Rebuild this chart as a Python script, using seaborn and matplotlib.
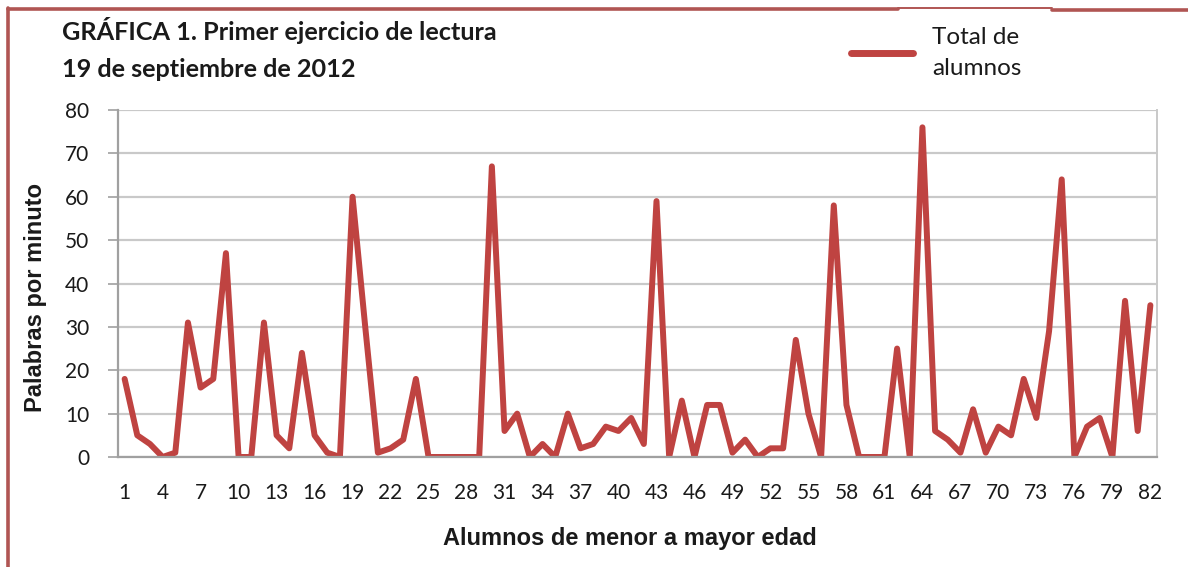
import matplotlib.pyplot as plt
from matplotlib.lines import Line2D
import numpy as np
import pandas as pd
import seaborn as sns

# datos (alumno -> palabras por minuto)
alumnos = list(range(1, 83))
palabras = [18, 5, 3, 0, 1, 31, 16, 18, 47, 0,
            0, 31, 5, 2, 24, 5, 1, 0, 60, 30,
            1, 2, 4, 18, 0, 0, 0, 0, 0, 67,
            6, 10, 0, 3, 0, 10, 2, 3, 7, 6,
            9, 3, 59, 0, 13, 0, 12, 12, 1, 4,
            0, 2, 2, 27, 10, 0, 58, 12, 0, 0,
            0, 25, 0, 76, 6, 4, 1, 11, 1, 7,
            5, 18, 9, 29, 64, 0, 7, 9, 0, 36,
            6, 35]
y_ticks = list(range(0, 81, 10))
x_tick_labels = list(range(1, 83, 3))

W, H = 1188, 567
LINE_COLOR = '#BF4341'
BORDER_COLOR = '#B05553'
GRID_COLOR = '#C9C9C9'
AXIS_COLOR = '#A0A0A0'
TEXT_COLOR = '#1a1a1a'

sns.set_style('white')
plt.rcParams['font.family'] = ['Lato', 'DejaVu Sans']

df = pd.DataFrame({'alumno': alumnos, 'palabras': palabras})

fig = plt.figure(figsize=(W / 100, H / 100), dpi=100)
ax = fig.add_axes([118.3 / W, 1 - 457 / H, (1156.7 - 118.3) / W, (457 - 110) / H])

sns.lineplot(data=df, x='alumno', y='palabras', ax=ax, color=LINE_COLOR,
             linewidth=4.3, label='Total de\nalumnos')

ax.set_xlim(0.5, 82.5)
ax.set_ylim(0, 80)
ax.set_yticks(y_ticks)
ax.set_xticks(x_tick_labels)
ax.set_xticks(np.arange(0.5, 83, 1), minor=True)
ax.set_xticklabels([str(v) for v in x_tick_labels])

ax.grid(axis='y', color=GRID_COLOR, linewidth=1.6)
ax.grid(axis='x', visible=False)
ax.set_axisbelow(True)

ax.tick_params(axis='x', which='major', length=0, pad=19, labelsize=15, labelcolor=TEXT_COLOR)
ax.tick_params(axis='x', which='minor', length=7, width=1.4, color=AXIS_COLOR, direction='out')
ax.tick_params(axis='y', which='major', length=7, width=1.2, color=AXIS_COLOR,
               direction='out', pad=14, labelsize=15, labelcolor=TEXT_COLOR, left=True)

ax.spines['top'].set_visible(False)
ax.spines['right'].set_color(GRID_COLOR)
ax.spines['right'].set_linewidth(1.4)
ax.spines['left'].set_color(AXIS_COLOR)
ax.spines['left'].set_linewidth(1.6)
ax.spines['bottom'].set_color(AXIS_COLOR)
ax.spines['bottom'].set_linewidth(1.6)

ax.set_xlabel('')
ax.set_ylabel('')
fig.text(630 / W, 1 - 539 / H, 'Alumnos de menor a mayor edad', ha='center', va='center',
         fontsize=17, fontweight='bold', family=['Liberation Sans', 'DejaVu Sans'], color=TEXT_COLOR)
fig.text(36 / W, 1 - 298 / H, 'Palabras por minuto', ha='center', va='center', rotation=90,
         fontsize=17, fontweight='bold', family=['Liberation Sans', 'DejaVu Sans'], color=TEXT_COLOR)

fig.text(62 / W, 1 - 40 / H, 'GRÁFICA 1. Primer ejercicio de lectura', ha='left', va='baseline',
         fontsize=18.2, fontweight='bold', color=TEXT_COLOR)
fig.text(62 / W, 1 - 77 / H, '19 de septiembre de 2012', ha='left', va='baseline',
         fontsize=18.2, fontweight='bold', color=TEXT_COLOR)

leg = ax.legend(loc='center left', bbox_to_anchor=(851 / W, 1 - 53 / H),
                bbox_transform=fig.transFigure, frameon=False, prop={'size': 17.5},
                handlelength=2.55, handletextpad=0.8, borderpad=0, borderaxespad=0)
for line in leg.get_lines():
    line.set_linewidth(5)
for t in leg.get_texts():
    t.set_color(TEXT_COLOR)
    t.set_linespacing(1.55)

# marco rojo del recuadro
fig.add_artist(Line2D([8 / W, 8 / W], [0, 1 - 8 / H], transform=fig.transFigure,
                      color=BORDER_COLOR, linewidth=2.6))
fig.add_artist(Line2D([8 / W, 898 / W], [1 - 9 / H, 1 - 9 / H], transform=fig.transFigure,
                      color=BORDER_COLOR, linewidth=2.6))
fig.add_artist(Line2D([898 / W, 1052 / W], [1 - 7.5 / H, 1 - 7.5 / H], transform=fig.transFigure,
                      color=BORDER_COLOR, linewidth=1.4))
fig.add_artist(Line2D([1052 / W, 1], [1 - 9.5 / H, 1 - 9.5 / H], transform=fig.transFigure,
                      color=BORDER_COLOR, linewidth=2.6))

fig.savefig('out.png', dpi=100)
